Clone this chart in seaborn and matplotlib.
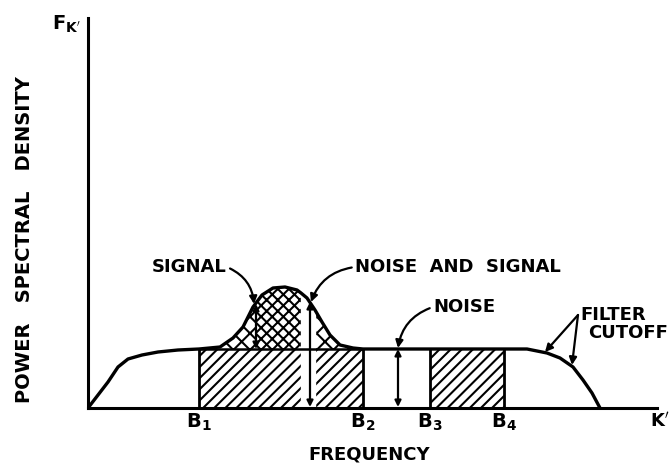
import numpy as np
import pandas as pd
import matplotlib
matplotlib.use("Agg")
import matplotlib.pyplot as plt
import seaborn as sns

# ---- data (frequency units / density units) ----
freq = [0, 10, 20, 30, 40, 54, 70, 90, 111, 132, 145, 155, 165, 168, 174,
        185, 197, 209, 213, 219, 225, 227, 234, 242, 252, 265, 275, 342,
        416, 439, 459, 472, 485, 495, 504, 512]
psd = [0, 13, 26, 41, 49, 53, 56, 58, 59, 61, 70, 81, 101, 105, 113,
       120, 121, 118, 115, 110, 101, 98, 86, 73, 63, 60, 59, 59,
       59, 59, 55, 50, 41, 28, 15, 0]
plateau = 59
band_edges = [111, 275, 342, 416]          # B1, B2, B3, B4
tick_labels = [r"$\mathbf{B_1}$", r"$\mathbf{B_2}$", r"$\mathbf{B_3}$", r"$\mathbf{B_4}$"]
signal_edges = [132, 168, 213, 227, 265]   # bump start, arrow, gap, gap, bump end

sns.set_theme(style="white")
plt.rcParams["font.family"] = ["DejaVu Sans"]
plt.rcParams["mathtext.fontset"] = "dejavusans"
plt.rcParams["text.color"] = "black"
plt.rcParams["xtick.color"] = "black"
plt.rcParams["hatch.linewidth"] = 1.5
plt.rcParams["hatch.color"] = "black"

df = pd.DataFrame({"freq": freq, "psd": psd})
fa = np.array(freq, float)
pa = np.array(psd, float)

fig = plt.figure(figsize=(6.69, 4.66), dpi=100)
ax = fig.add_axes([88 / 669, 58 / 466, 569 / 669, 390 / 466])

# hatched bands
for a, b in [(band_edges[0], band_edges[1]), (band_edges[2], band_edges[3])]:
    ax.fill_between([a, b], 0, plateau, facecolor="white", edgecolor="black",
                    hatch="///", linewidth=0, zorder=1)
    ax.plot([a, a], [0, plateau], color="black", lw=2, zorder=3)
    ax.plot([b, b], [0, plateau], color="black", lw=2, zorder=3)

# cross-hatched signal bump: sparse on the flanks, dense in the middle
segs = [(signal_edges[0], signal_edges[1], "xx"),
        (signal_edges[1], signal_edges[2], "xxx"),
        (signal_edges[3], signal_edges[4], "xx")]
for a, b, h in segs:
    m = (fa >= a) & (fa <= b)
    ax.fill_between(fa[m], plateau, pa[m], facecolor="white", edgecolor="black",
                    hatch=h, linewidth=0, zorder=1)
# white gap around the noise+signal arrow
ax.axvspan(signal_edges[2], signal_edges[3], 0, 0.33, color="white", zorder=2)

sns.lineplot(data=df, x="freq", y="psd", ax=ax, color="black", lw=2.4,
             sort=False, estimator=None, zorder=3)
ax.plot([band_edges[0], band_edges[1]], [plateau, plateau], color="black",
        lw=1.8, zorder=3)

# vertical double arrows
akw = dict(arrowstyle="<|-|>", color="black", lw=1.6, mutation_scale=9,
           shrinkA=0, shrinkB=0)
ax.annotate("", xy=(168, plateau), xytext=(168, 104), arrowprops=akw, zorder=4)
ax.annotate("", xy=(222, 1), xytext=(222, 106), arrowprops=akw, zorder=4)
ax.annotate("", xy=(310, 1), xytext=(310, plateau), arrowprops=akw, zorder=4)

tkw = dict(fontsize=13, fontweight="bold", color="black")
pkw = dict(arrowstyle="-|>", color="black", lw=1.6, mutation_scale=11,
           shrinkA=0, shrinkB=0)
ax.annotate("SIGNAL", xy=(166, 104), xytext=(64, 141), ha="left", va="center",
            arrowprops=dict(pkw, connectionstyle="arc3,rad=-0.3",
                            relpos=(1, 0.5)), **tkw)
ax.annotate("NOISE  AND  SIGNAL", xy=(223, 106), xytext=(267, 141), ha="left",
            va="center", arrowprops=dict(pkw, connectionstyle="arc3,rad=0.3",
                                         relpos=(0, 0.5)), **tkw)
ax.annotate("NOISE", xy=(310, 60), xytext=(345, 101), ha="left", va="center",
            arrowprops=dict(pkw, connectionstyle="arc3,rad=0.3",
                            relpos=(0, 0.5)), **tkw)
ax.text(492, 93, "FILTER", ha="left", va="center", **tkw)
ax.text(500, 75, "CUTOFF", ha="left", va="center", **tkw)
ax.annotate("", xy=(457, 56), xytext=(490, 93), arrowprops=pkw)
ax.annotate("", xy=(484, 43), xytext=(490, 93), arrowprops=pkw)

ax.set_xlim(0, 569)
ax.set_ylim(0, 390)
ax.set_xticks(band_edges)
ax.set_xticklabels(tick_labels, fontsize=14, color="black")
ax.tick_params(axis="x", length=0, pad=3, labelcolor="black")
ax.set_yticks([])
ax.set_xlabel("")
ax.set_ylabel("")
for s in ["top", "right"]:
    ax.spines[s].set_visible(False)
for s in ["left", "bottom"]:
    ax.spines[s].set_linewidth(2.2)
    ax.spines[s].set_color("black")

fig.text(650 / 669, 1 - 421 / 466, r"$\mathbf{K'}$", ha="left", va="center",
         fontsize=13, color="black")
fig.text(369 / 669, 1 - 455 / 466, "FREQUENCY", ha="center", va="center", **tkw)
fig.text(25 / 669, 1 - 240 / 466, "POWER   SPECTRAL   DENSITY", rotation=90,
         ha="center", va="center", fontsize=14, fontweight="bold", color="black")
fig.text(66 / 669, 1 - 24 / 466, r"$\mathbf{F_{K'}}$", ha="center", va="center",
         fontsize=14, color="black")

fig.savefig("out.png", dpi=100)
